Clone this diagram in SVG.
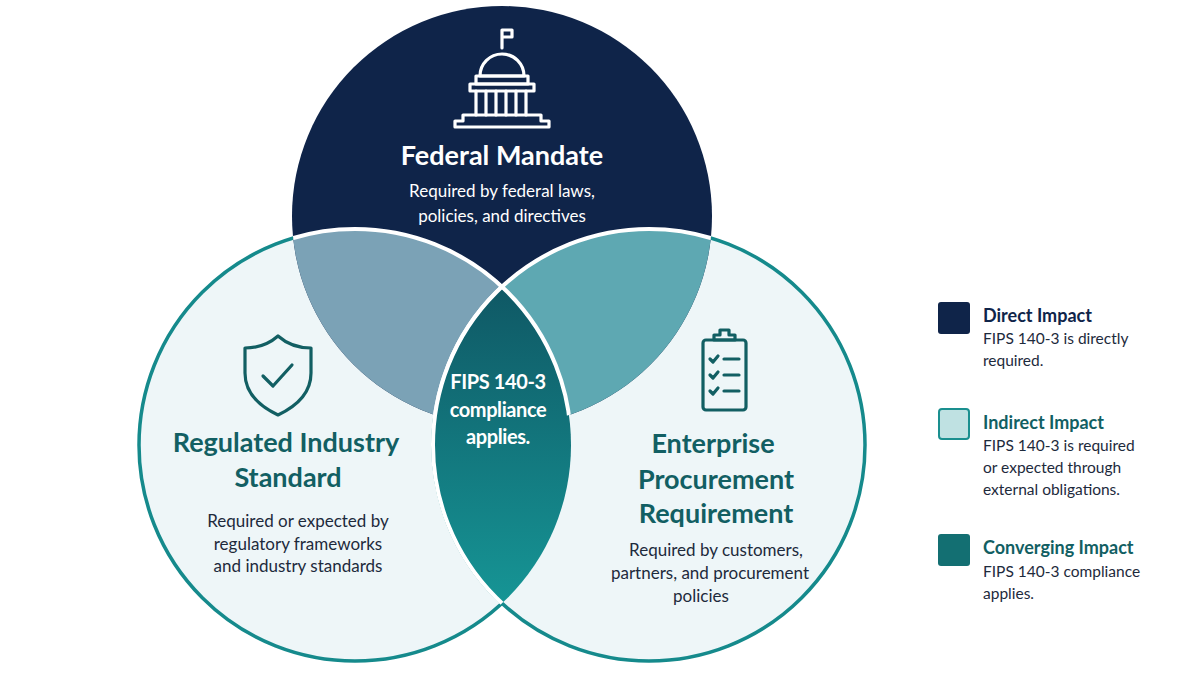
<svg xmlns="http://www.w3.org/2000/svg" width="1200" height="675" viewBox="0 0 1200 675">
<defs>
<style>
text{font-family:Lato,"Open Sans","Liberation Sans",sans-serif;text-anchor:middle}
.h{font-weight:700;font-size:27px}
.s{font-size:17px}
.w{fill:#fff}
.tl{fill:#125f63}
.dk{fill:#1d2a3c}
.lt{text-anchor:start;font-weight:700;font-size:18px}
.ls{text-anchor:start;font-size:15.5px;fill:#1d2a3c}
.c{font-weight:700;font-size:20px;letter-spacing:-0.4px}
.ic{fill:none;stroke-width:3.2;stroke-linecap:round;stroke-linejoin:round}
</style>
<clipPath id="cTop"><circle cx="502" cy="216" r="210"/></clipPath>
<clipPath id="cLeft"><circle cx="355" cy="445" r="216"/></clipPath>
<clipPath id="cRight"><circle cx="649" cy="445" r="216"/></clipPath>
<linearGradient id="g" x1="0" y1="0" x2="0" y2="1">
<stop offset="0" stop-color="#0e4d5c"/><stop offset="1" stop-color="#17a09e"/>
</linearGradient>
</defs>
<rect width="1200" height="675" fill="#fff"/>
<g id="regulated">
<circle cx="355" cy="445" r="216" fill="#eef6f8" stroke="#158a8c" stroke-width="3.5"/>
</g>
<g id="enterprise">
<circle cx="649" cy="445" r="216" fill="#eef6f8" stroke="#158a8c" stroke-width="3.5"/>
</g>
<g id="federal">
<circle cx="502" cy="216" r="210" fill="#0f2449"/>
</g>
<g id="overlaps">
<g clip-path="url(#cTop)"><circle cx="355" cy="445" r="216" fill="#7ba2b6" stroke="#fff" stroke-width="4"/></g>
<g clip-path="url(#cTop)"><circle cx="649" cy="445" r="216" fill="#5ea8b2" stroke="#fff" stroke-width="4"/></g>
<g clip-path="url(#cLeft)"><circle cx="649" cy="445" r="216" fill="url(#g)" stroke="#fff" stroke-width="4"/></g>
<g clip-path="url(#cRight)"><circle cx="355" cy="445" r="216" fill="none" stroke="#fff" stroke-width="4" clip-path="url(#cTop)"/></g>
</g>
<g id="capitol" class="ic" stroke="#fff" stroke-width="2.6">
<path d="M502 48V30h10v7h-10"/>
<path d="M480 76a22 22 0 0 1 44 0z"/>
<path d="M476 76h52v8h-52z"/>
<path d="M470 84h64v7h-64z"/>
<path d="M476 91v24M486 91v24M496 91v24M506 91v24M516 91v24M526 91v24"/>
<path d="M470 115h64M463 115v6h-8v6h94v-6h-8v-6z"/>
</g>
<g id="t-fed">
<text class="h w" x="502" y="165">Federal Mandate</text>
<text class="s w" x="502" y="197">Required by federal laws,</text>
<text class="s w" x="502" y="222">policies, and directives</text>
</g>
<g id="shield" class="ic" stroke="#125f63">
<path d="M278 336c-9 8-21 12-33 12v25c0 19 12 32 33 42c21-10 33-23 33-42v-25c-12 0-24-4-33-12z"/>
<path d="M263 376l10 10l19-21"/>
</g>
<g id="t-reg">
<text class="h tl" x="286" y="452">Regulated Industry</text>
<text class="h tl" x="288" y="487">Standard</text>
<text class="s dk" x="298" y="527">Required or expected by</text>
<text class="s dk" x="298" y="550">regulatory frameworks</text>
<text class="s dk" x="298" y="572">and industry standards</text>
</g>
<g id="clipboard" class="ic" stroke="#125f63">
<rect x="703" y="340" width="43" height="70" rx="3"/>
<path d="M714 340v-5h6v-5h9v5h6v5z"/>
<path d="M710 359l3 3l5-6M710 375l3 3l5-6M710 391l3 3l5-6M724 359h15M724 375h15M724 391h15"/>
</g>
<g id="t-ent">
<text class="h tl" x="713" y="453">Enterprise</text>
<text class="h tl" x="716" y="489">Procurement</text>
<text class="h tl" x="716" y="523">Requirement</text>
<text class="s dk" x="716" y="556">Required by customers,</text>
<text class="s dk" x="710" y="579">partners, and procurement</text>
<text class="s dk" x="701" y="602">policies</text>
</g>
<g id="t-center">
<text class="w c" x="498" y="389">FIPS 140-3</text>
<text class="w c" x="498" y="417">compliance</text>
<text class="w c" x="498" y="444">applies.</text>
</g>
<g id="legend">
<rect x="938" y="302" width="32" height="32" rx="3" fill="#0f2449"/>
<text class="lt" x="983" y="322" fill="#0f2449">Direct Impact</text>
<text class="ls" x="983" y="344">FIPS 140-3 is directly</text>
<text class="ls" x="983" y="366">required.</text>
<rect x="939" y="409" width="30" height="30" rx="3" fill="#bfe1e2" stroke="#1a8f8f" stroke-width="2"/>
<text class="lt" x="983" y="429" fill="#125f63">Indirect Impact</text>
<text class="ls" x="983" y="451">FIPS 140-3 is required</text>
<text class="ls" x="983" y="473">or expected through</text>
<text class="ls" x="983" y="495">external obligations.</text>
<rect x="938" y="534" width="32" height="32" rx="3" fill="#136f72"/>
<text class="lt" x="983" y="554" fill="#125f63">Converging Impact</text>
<text class="ls" x="983" y="577">FIPS 140-3 compliance</text>
<text class="ls" x="983" y="599">applies.</text>
</g>
</svg>
